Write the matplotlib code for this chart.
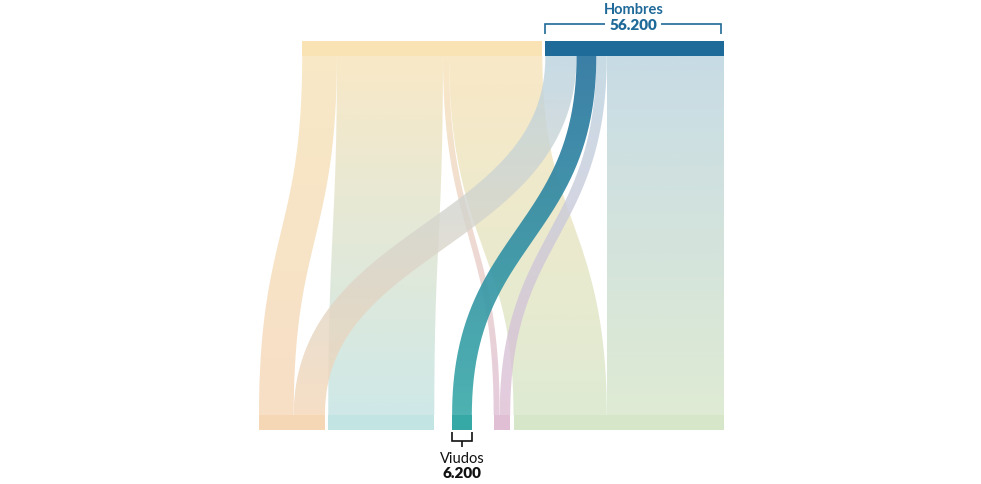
import matplotlib

matplotlib.use('Agg')
import matplotlib.pyplot as plt
from matplotlib.path import Path
from matplotlib.patches import PathPatch
from matplotlib.colors import to_rgb
import numpy as np

# nodes and flows (people)
top_nodes = ['Mujeres', 'Hombres']
bottom_nodes = ['Solteros', 'Casados', 'Viudos', 'Divorciados', 'Otros']
flow_source = ['Mujeres', 'Mujeres', 'Mujeres', 'Mujeres',
               'Hombres', 'Hombres', 'Hombres', 'Hombres']
flow_target = ['Solteros', 'Casados', 'Divorciados', 'Otros',
               'Solteros', 'Viudos', 'Divorciados', 'Otros']
flow_value = [10900, 33300, 1900, 29300, 9800, 6200, 3300, 36900]

highlight_source = 'Hombres'
highlight_target = 'Viudos'

node_colors = {'Mujeres': '#F9E3B4', 'Hombres': '#1E6A98',
               'Solteros': '#F5D7B5', 'Casados': '#C2E4E3', 'Viudos': '#36A9A7',
               'Divorciados': '#E0BFD5', 'Otros': '#D5E6C9'}
# colour of a faded flow at its ends, as seen over white
flow_end_colors = {'Mujeres': '#F9E9C7', 'Hombres': '#C8DCE6',
                   'Solteros': '#F7DFC6', 'Casados': '#CFE9E8', 'Viudos': '#CDE9E8',
                   'Divorciados': '#E5CCDD', 'Otros': '#DFEBD4'}
highlight_colors = ('#3B7FA6', '#4DB2B1')

# layout, in pixels
W, H = 981, 485
PX = 56200 / 179.0          # people per pixel
NODE_TOP = 42
NODE_H = 15
FLOW_BOTTOM = 416
BOTTOM_LEFT = 259
BOTTOM_GAPS = [3.3, 17.8, 21.8, 3.3]
TOP_GAP = 3

fig = plt.figure(figsize=(W / 100, H / 100), dpi=100)
ax = fig.add_axes([0, 0, 1, 1])
ax.set_xlim(0, W * PX)
ax.set_ylim(H * PX, 0)
ax.axis('off')

y_top0 = NODE_TOP * PX
y_top1 = (NODE_TOP + NODE_H) * PX
y_bot0 = FLOW_BOTTOM * PX
y_bot1 = (FLOW_BOTTOM + NODE_H) * PX

# node positions
node_total = {}
for n in top_nodes + bottom_nodes:
    node_total[n] = sum(v for s, t, v in zip(flow_source, flow_target, flow_value) if n in (s, t))

node_x = {}
cursor = BOTTOM_LEFT * PX
for i, n in enumerate(bottom_nodes):
    node_x[n] = cursor
    cursor += node_total[n]
    if i < len(BOTTOM_GAPS):
        cursor += BOTTOM_GAPS[i] * PX
right_edge = cursor
top_width = sum(node_total[n] for n in top_nodes) + TOP_GAP * PX * (len(top_nodes) - 1)
cursor = right_edge - top_width
for n in top_nodes:
    node_x[n] = cursor
    cursor += node_total[n] + TOP_GAP * PX

# flow offsets within each node
src_off = {n: node_x[n] for n in top_nodes}
tgt_off = {n: node_x[n] for n in bottom_nodes}
order = sorted(range(len(flow_value)), key=lambda i: bottom_nodes.index(flow_target[i]))
flow_x0 = {}
for i in order:
    flow_x0[i] = src_off[flow_source[i]]
    src_off[flow_source[i]] += flow_value[i]
order = sorted(range(len(flow_value)), key=lambda i: top_nodes.index(flow_source[i]))
flow_x1 = {}
for i in order:
    flow_x1[i] = tgt_off[flow_target[i]]
    tgt_off[flow_target[i]] += flow_value[i]


def ribbon(x0, x1, w, y0, y1, n=200):
    # outline of a thick stroke along a vertical sankey link
    t = np.linspace(0, 1, n)
    ym = (y0 + y1) / 2
    bx = (1 - t) ** 3 * x0 + 3 * (1 - t) ** 2 * t * x0 + 3 * (1 - t) * t ** 2 * x1 + t ** 3 * x1
    by = (1 - t) ** 3 * y0 + 3 * (1 - t) ** 2 * t * ym + 3 * (1 - t) * t ** 2 * ym + t ** 3 * y1
    dx = 6 * (1 - t) * t * (x1 - x0)
    dy = 3 * (1 - t) ** 2 * (ym - y0) + 3 * t ** 2 * (y1 - ym)
    norm = np.hypot(dx, dy)
    nx, ny = dy / norm, -dx / norm
    left = np.column_stack([bx + nx * w / 2, by + ny * w / 2])
    right = np.column_stack([bx - nx * w / 2, by - ny * w / 2])
    return np.vstack([left, right[::-1], left[:1]])


def base_color(shown, alpha):
    c = np.array(to_rgb(shown))
    return np.clip(1 - (1 - c) / alpha, 0, 1)


def draw_flow(i, z):
    w = flow_value[i]
    x0 = flow_x0[i] + w / 2
    x1 = flow_x1[i] + w / 2
    poly = ribbon(x0, x1, w, y_top1, y_bot0)
    hl = flow_source[i] == highlight_source and flow_target[i] == highlight_target
    if hl:
        alpha = 0.92
        c0, c1 = highlight_colors
    else:
        alpha = 0.8
        c0, c1 = flow_end_colors[flow_source[i]], flow_end_colors[flow_target[i]]
    c0 = base_color(c0, alpha)
    c1 = base_color(c1, alpha)
    s = np.linspace(0, 1, 256)[:, None]
    grad = np.zeros((256, 1, 4))
    grad[:, 0, :3] = c0 * (1 - s) + c1 * s
    grad[:, 0, 3] = alpha
    patch = PathPatch(Path(poly), facecolor='none', edgecolor='none')
    ax.add_patch(patch)
    im = ax.imshow(grad, extent=(poly[:, 0].min(), poly[:, 0].max(), y_bot0, y_top1),
                   origin='upper', aspect='auto', interpolation='bilinear', zorder=z)
    im.set_clip_path(patch)


hl_index = [i for i in range(len(flow_value))
            if flow_source[i] == highlight_source and flow_target[i] == highlight_target]
for i in range(len(flow_value)):
    if i in hl_index:
        continue
    draw_flow(i, 1 + top_nodes.index(flow_source[i]))
for i in hl_index:
    draw_flow(i, 4)

for n in top_nodes:
    ax.bar(node_x[n], y_top1 - y_top0, width=node_total[n], bottom=y_top0,
           align='edge', color=node_colors[n], zorder=5)
for n in bottom_nodes:
    ax.bar(node_x[n], y_bot1 - y_bot0, width=node_total[n], bottom=y_bot0,
           align='edge', color=node_colors[n], zorder=5)

ax.set_xlim(0, W * PX)
ax.set_ylim(H * PX, 0)

FONT = ['Lato', 'DejaVu Sans']


def fmt(v):
    return f'{v:,}'.replace(',', '.')


# Hombres label with bracket
blue = '#1F6A99'
hx0 = node_x['Hombres']
hx1 = node_x['Hombres'] + node_total['Hombres'] - 3 * PX
hc = (hx0 + hx1) / 2
ax.text(hc, 10 * PX, 'Hombres', color=blue, fontsize=10.5, fontweight='bold',
        family=FONT, ha='center', va='center')
ax.text(hc, 25 * PX, fmt(node_total['Hombres']), color=blue, fontsize=11, fontweight='heavy',
        family=FONT, ha='center', va='center')
ax.plot([hx0, hx0, hc - 28 * PX], [35 * PX, 25 * PX, 25 * PX], color=blue, lw=1.2,
        solid_joinstyle='miter', solid_capstyle='butt')
ax.plot([hc + 28 * PX, hx1, hx1], [25 * PX, 25 * PX, 35 * PX], color=blue, lw=1.2,
        solid_joinstyle='miter', solid_capstyle='butt')

# Viudos label with bracket
vx0 = node_x['Viudos']
vx1 = node_x['Viudos'] + node_total['Viudos']
vc = (vx0 + vx1) / 2
ax.plot([vx0, vx0, vx1, vx1], [433 * PX, 441.5 * PX, 441.5 * PX, 433 * PX], color='#111111', lw=1.2,
        solid_joinstyle='miter', solid_capstyle='butt')
ax.plot([vc, vc], [441.5 * PX, 448 * PX], color='#111111', lw=1.2, solid_capstyle='butt')
ax.text(vc, 459 * PX, 'Viudos', color='#111111', fontsize=10.5,
        family=FONT, ha='center', va='center')
ax.text(vc, 474 * PX, fmt(node_total['Viudos']), color='#111111', fontsize=11, fontweight='heavy',
        family=FONT, ha='center', va='center')

fig.savefig('out.png', dpi=100)
